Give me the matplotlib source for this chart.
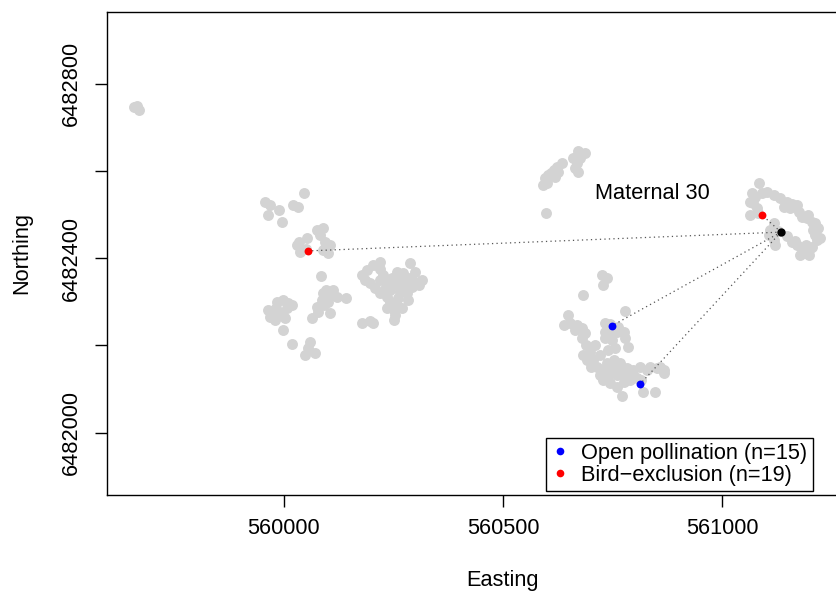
import numpy as np
import matplotlib.pyplot as plt

plt.rcParams['font.family'] = ['Liberation Sans', 'DejaVu Sans']

# all mapped plants (grey background)
gray_east = [559659, 559665, 559670,
             560046, 559957, 559968, 559964, 559989, 560020, 560033, 559996, 560075, 560090,
             560082, 560035, 560029, 560037, 560052, 560094, 560105, 560090, 560101, 560050,
             560084, 560097, 560120, 560075, 560086, 560105, 560141, 560063, 560112, 560100,
             560078, 560091, 559998, 560010, 559983, 559968, 559991, 560006, 559979, 560018,
             559963, 560002, 559998, 560018, 560059, 560055, 560071, 560048,
             559985, 559975, 560100, 560090,
             560219, 560204, 560189, 560177, 560288, 560257, 560272, 560288, 560227, 560219,
             560234, 560196, 560185, 560261, 560276, 560292, 560314, 560307, 560265, 560280,
             560219, 560234, 560242, 560242, 560257, 560284, 560234, 560250, 560269, 560250,
             560253, 560177, 560196, 560204, 560247, 560299, 560208,
             560230, 560265, 560250, 560280, 560220, 560300, 560260,
             560672, 560687, 560676, 560668, 560664, 560672, 560634, 560623, 560615, 560603,
             560596, 560600, 560592, 560619, 560626, 560598, 560660, 560610,
             560725, 560737, 560729, 560683, 560649, 560638, 560653, 560668, 560680, 560687,
             560680, 560664, 560779, 560733, 560733, 560733, 560748, 560763, 560775, 560779,
             560786, 560756, 560740, 560683, 560699, 560706, 560691, 560714, 560721, 560737,
             560752, 560767, 560782, 560797, 560813, 560828, 560836, 560851, 560866, 560729,
             560744, 560760, 560775, 560790, 560805, 560740, 560760, 560779, 560797, 560858,
             560866, 560820, 560847, 560771, 560710, 560721, 560745, 560815,
             560700, 560750, 560770, 560730, 560690, 560760, 560745,
             561083, 561068, 561075, 561064, 561071, 561079, 561064, 561102, 561117, 561132,
             561148, 561140, 561155, 561171, 561174, 561182, 561193, 561205, 561212, 561208,
             561117, 561110, 561106, 561117, 561121, 561148, 561159, 561171, 561182, 561186,
             561197, 561205, 561216, 561212, 561178, 561197, 561224, 561219, 561082, 561128,
             561090, 561160, 561195, 561165, 561190]
gray_north = [6482748, 6482749, 6482740,
              6482550, 6482528, 6482522, 6482499, 6482511, 6482522, 6482517, 6482484, 6482465, 6482469,
              6482453, 6482438, 6482430, 6482415, 6482446, 6482438, 6482430, 6482419, 6482411, 6482422,
              6482360, 6482327, 6482312, 6482289, 6482304, 6482274, 6482308, 6482262, 6482327, 6482313,
              6482277, 6482293, 6482304, 6482297, 6482285, 6482266, 6482274, 6482285, 6482258, 6482293,
              6482281, 6482263, 6482235, 6482203, 6482209, 6482194, 6482182, 6482178,
              6482300, 6482275, 6482300, 6482320,
              6482392, 6482385, 6482373, 6482362, 6482389, 6482369, 6482366, 6482354, 6482362, 6482350,
              6482343, 6482343, 6482350, 6482343, 6482335, 6482335, 6482350, 6482339, 6482323, 6482320,
              6482320, 6482312, 6482327, 6482300, 6482293, 6482304, 6482285, 6482281, 6482285, 6482258,
              6482270, 6482251, 6482255, 6482251, 6482355, 6482369, 6482332,
              6482330, 6482355, 6482340, 6482350, 6482375, 6482345, 6482310,
              6482645, 6482641, 6482629, 6482618, 6482606, 6482599, 6482618, 6482610, 6482603, 6482591,
              6482584, 6482572, 6482568, 6482587, 6482599, 6482503, 6482630, 6482595,
              6482362, 6482354, 6482339, 6482316, 6482270, 6482247, 6482251, 6482247, 6482239, 6482228,
              6482216, 6482235, 6482278, 6482251, 6482232, 6482216, 6482213, 6482243, 6482232, 6482216,
              6482197, 6482194, 6482190, 6482178, 6482186, 6482167, 6482167, 6482151, 6482132, 6482159,
              6482167, 6482159, 6482148, 6482144, 6482151, 6482144, 6482151, 6482148, 6482136, 6482121,
              6482113, 6482105, 6482117, 6482121, 6482125, 6482132, 6482132, 6482132, 6482132, 6482151,
              6482144, 6482094, 6482094, 6482083, 6482201, 6482178, 6482250, 6482120,
              6482150, 6482150, 6482140, 6482145, 6482200, 6482230, 6482225,
              6482572, 6482549, 6482541, 6482530, 6482526, 6482515, 6482499, 6482553, 6482545, 6482538,
              6482530, 6482518, 6482515, 6482522, 6482507, 6482495, 6482492, 6482484, 6482480, 6482465,
              6482480, 6482465, 6482453, 6482442, 6482430, 6482450, 6482438, 6482430, 6482423, 6482411,
              6482419, 6482427, 6482442, 6482453, 6482408, 6482408, 6482447, 6482470, 6482505, 6482462,
              6482550, 6482525, 6482500, 6482440, 6482430]

# pollen donors per treatment
open_east = [560748, 560813]
open_north = [6482245, 6482112]
bird_east = [560056, 561091]
bird_north = [6482417, 6482499]

mother_east = 561134
mother_north = 6482460
mother_name = "Maternal 30"

legend_labels = ["Open pollination (n=15)", "Bird\u2212exclusion (n=19)"]

fs = 15.7
fig = plt.figure(figsize=(8.37, 5.94), dpi=100)
ax = fig.add_axes([0.1282, 0.1667, 0.874, 0.8131])

ax.scatter(gray_east, gray_north, s=62, c='#D3D3D3', linewidths=0, zorder=1)

for ex, ny in zip(open_east + bird_east, open_north + bird_north):
    ax.plot([mother_east, ex], [mother_north, ny], color='#555555', lw=0.9,
            dashes=(1, 2.6), zorder=2)

ax.scatter(open_east, open_north, s=32, c='#0000FF', linewidths=0, zorder=3)
ax.scatter(bird_east, bird_north, s=32, c='#FF0000', linewidths=0, zorder=3)
ax.scatter([mother_east], [mother_north], s=36, c='black', linewidths=0, zorder=4)

ax.text(560840, 6482548, mother_name, fontsize=fs, ha='center', va='center')

ax.set_xlim(559597, 561266)
ax.set_ylim(6481857, 6482965)
ax.set_xticks([560000, 560500, 561000])
ax.set_yticks([6482000, 6482200, 6482400, 6482600, 6482800])
ax.set_yticklabels(['6482000', '', '6482400', '', '6482800'], rotation=90, va='center')
ax.tick_params(axis='both', labelsize=fs, length=8.5, width=1, direction='out')
ax.tick_params(axis='x', pad=8)
ax.tick_params(axis='y', pad=9.5)
for sp in ax.spines.values():
    sp.set_linewidth(1)

ax.set_xlabel("Easting", fontsize=fs)
ax.set_ylabel("Northing", fontsize=fs)
ax.xaxis.set_label_coords((503 - 107.3) / 733, -0.156)
ax.yaxis.set_label_coords(-0.102, 0.5)

h1 = plt.Line2D([], [], ls='', marker='o', ms=5.5, color='#0000FF', mec='none')
h2 = plt.Line2D([], [], ls='', marker='o', ms=5.5, color='#FF0000', mec='none')
leg = ax.legend([h1, h2], legend_labels, loc='lower right',
                bbox_to_anchor=(812.7 / 837, 103 / 594), bbox_transform=fig.transFigure,
                fontsize=fs, frameon=True, fancybox=False, framealpha=1,
                borderpad=0.25, handlelength=0.8, handletextpad=0.55,
                labelspacing=0.02, borderaxespad=0)
leg.get_frame().set_edgecolor('black')
leg.get_frame().set_linewidth(1)

fig.savefig('out.png', dpi=100)
